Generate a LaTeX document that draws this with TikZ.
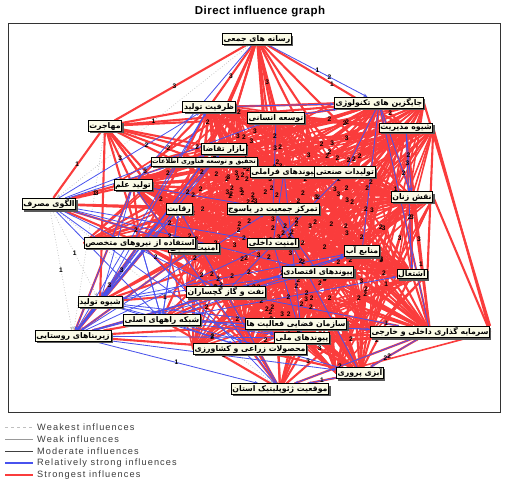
\documentclass[tikz,border=0pt]{standalone}
\usepackage{fontspec}
\setmainfont{Liberation Sans}
\newfontfamily\fa[Script=Arabic]{DejaVu Sans}
\newfontfamily\legfont[LetterSpace=12]{Liberation Sans}
\newfontfamily\titlefont[LetterSpace=4]{Liberation Sans}
\TeXXeTstate=1
\usetikzlibrary{shadows,arrows.meta}
\definecolor{redl}{RGB}{250,60,60}
\definecolor{bluel}{RGB}{72,82,238}
\definecolor{boxfill}{RGB}{250,250,230}
\definecolor{legtxt}{RGB}{60,60,60}
\pgfdeclarelayer{edges}
\pgfdeclarelayer{nums}
\pgfsetlayers{edges,nums,main}
\newcommand\fatext[1]{\beginR #1\endR}
\tikzset{
  lbl/.style={draw=black, line width=0.8pt, fill=boxfill, inner sep=1.2pt,
    font=\fa\bfseries\fontsize{7.8}{9}\selectfont,
    drop shadow={shadow xshift=1.8pt, shadow yshift=-1.8pt, fill=black!65, opacity=1}},
  redge/.style={draw=redl, line width=2.1pt},
  redge2/.style={draw=redl, line width=1.6pt},
  bedge/.style={draw=bluel, line width=0.8pt},
  gedge/.style={draw=gray!55, dotted, line width=0.7pt},
  wedge/.style={draw=gray!70, line width=0.4pt},
  tip/.style={-{Stealth[length=4pt,width=3pt]}},
  num/.style={font=\bfseries\fontsize{6.6}{7}\selectfont, inner sep=0pt, text=black},
  legtext/.style={anchor=west, inner sep=0pt, text=legtxt, font=\legfont\fontsize{9.2}{10}\selectfont},
}
\begin{document}
\begin{tikzpicture}[x=1pt,y=-1pt]
\useasboundingbox (0,0) rectangle (508,481);
\node[font=\titlefont\bfseries\fontsize{11.5}{12}\selectfont] (title) at (260,12) {Direct influence graph};
\draw[line width=0.6pt, draw=black!80] (8,23) rectangle (500,412);

% ---------- nodes ----------
\node[lbl] (n1) at (257,39) {\fatext{رسانه های جمعی}};
\node[lbl] (n2) at (209,107) {\fatext{ظرفیت تولید}};
\node[lbl] (n3) at (276,118) {\fatext{توسعه انسانی}};
\node[lbl] (n4) at (379,103) {\fatext{جایگزین های تکنولوژی}};
\node[lbl] (n5) at (406,128) {\fatext{شیوه مدیریت}};
\node[lbl] (n6) at (105,126) {\fatext{مهاجرت}};
\node[lbl] (n7) at (224,149) {\fatext{بازار تقاضا}};
\node[lbl, font=\fa\bfseries\fontsize{6.5}{7.5}\selectfont] (n8) at (204,162) {\fatext{تحقیق و توسعه فناوری اطلاعات}};
\node[lbl] (n9) at (284,172) {\fatext{پیوندهای فراملی}};
\node[lbl] (n10) at (345,172) {\fatext{تولیدات صنعتی}};
\node[lbl] (n11) at (412,197) {\fatext{نقش زنان}};
\node[lbl] (n12) at (133,185) {\fatext{تولید علم}};
\node[lbl] (n13) at (49,204) {\fatext{الگوی مصرف}};
\node[lbl] (n14) at (179,209) {\fatext{رقابت}};
\node[lbl] (n15) at (273,209) {\fatext{تمرکز جمعیت در یاسوج}};
\node[lbl] (n17) at (194,248) {\fatext{امنیت غذایی}};
\node[lbl] (n16) at (140,243) {\fatext{استفاده از نیروهای متخصص}};
\node[lbl] (n18) at (273,243) {\fatext{امنیت داخلی}};
\node[lbl] (n19) at (362,251) {\fatext{منابع آب}};
\node[lbl] (n20) at (412,274) {\fatext{اشتغال}};
\node[lbl] (n21) at (318,272) {\fatext{پیوندهای اقتصادی}};
\node[lbl] (n22) at (226,292) {\fatext{نفت و گاز گچساران}};
\node[lbl] (n23) at (100,302) {\fatext{شیوه تولید}};
\node[lbl] (n24) at (162,320) {\fatext{شبکه راههای اصلی}};
\node[lbl] (n25) at (73,336) {\fatext{زیربناهای روستایی}};
\node[lbl] (n26) at (296,324) {\fatext{سازمان فضایی فعالیت ها}};
\node[lbl] (n27) at (302,338) {\fatext{پیوندهای ملی}};
\node[lbl] (n28) at (430,332) {\fatext{سرمایه گذاری داخلی و خارجی}};
\node[lbl] (n29) at (250,349) {\fatext{محصولات زراعی و کشاورزی}};
\node[lbl] (n30) at (360,373) {\fatext{آبزی پروری}};
\node[lbl] (n31) at (280,389) {\fatext{موقعیت ژئوپلیتیک استان}};

\def\corelist{2,3,4,5,7,8,9,10,11,12,14,15,16,17,18,19,20,21,22,26,27,28,29,30}

% ---------- edges ----------
\begin{pgfonlayer}{edges}
% weakest (dotted grey)
\foreach \a/\b in {1/13,6/13,13/23,13/25,25/31,25/30,31/30,4/20,5/20,5/28,11/28,1/4,1/5,12/13,23/25,24/25,1/12,6/25,13/31,20/30,11/30,1/6,13/24}
  \draw[gedge,tip] (n\a) -- (n\b);
% weak / moderate (grey)
\foreach \a/\b in {13/16,6/23,25/29,24/31,4/11,5/11,30/28}
  \draw[wedge,tip] (n\a) -- (n\b);
% strongest core
\foreach \i in \corelist {\foreach \j in \corelist {\ifnum\i<\j
  \draw[redge] (n\i) -- (n\j);
  \draw[redge2] (n\i.east) -- (n\j.west);
  \fi}}
\draw[redge] (n5.east) -- (n28.east);
\draw[redge] (n4.east) -- (n28.north east);
\draw[redge] (n5.east) -- (n20.east);
\draw[redge] (n11.east) -- (n28.east);
% strongest fans
\foreach \b in {2,3,6,7,8,9,10,15,18,21,5,11,19,26,17,14}
  \draw[redge] (n1) -- (n\b);
\foreach \b in {2,3,4,7,8,9,12,14,15,16,13,23,17,22}
  \draw[redge] (n6) -- (n\b);
\foreach \b in {12,14,15,16,8,17}
  \draw[redge] (n13) -- (n\b);
\foreach \b in {14,16,15,17,22,18}
  \draw[redge] (n23) -- (n\b);
\foreach \b in {17,22,18,15,26,21}
  \draw[redge] (n24) -- (n\b);
\foreach \b in {12,16,14,17,22,29,26,24}
  \draw[redge] (n25) -- (n\b);
\foreach \b in {26,27,29,22,18,15,21,19,30,28,24,17,20}
  \draw[redge] (n31) -- (n\b);
% relatively strong (blue)
\foreach \i in \corelist {\foreach \j in \corelist {\ifnum\i<\j
  \pgfmathtruncatemacro\bsel{mod(\i*7+\j*13+\i*\j,9)}
  \ifnum\bsel=0 \draw[bedge] (n\i) -- (n\j);\fi\fi}}
\draw[bedge,tip] (n1) -- (n4);
\foreach \a/\b in {13/2,13/7,13/3,13/22,13/24,13/18,13/21,13/17,13/29,
  23/21,23/26,23/19,23/27,23/29,23/2,23/8,
  24/16,24/14,24/29,24/27,24/19,24/20,24/28,
  25/15,25/18,25/21,25/27,25/30,25/31,25/8,25/7,25/2,25/19,25/23,
  16/23,16/24,16/25,12/23,12/25,14/23,14/24,14/25,22/25,17/25,
  31/16,31/14,31/12,28/30,28/31,28/24,30/31,30/23,
  5/11,5/20,4/11,2/4,3/4,1/12}
  \draw[bedge,tip] (n\a) -- (n\b);
\end{pgfonlayer}

% ---------- influence values ----------
\begin{pgfonlayer}{nums}
\foreach \i in \corelist {\foreach \j in \corelist {\ifnum\i<\j
  \pgfmathtruncatemacro\shw{mod(\i*3+\j*5,3)}
  \ifnum\shw<2
   \pgfmathsetmacro\pp{0.22+0.08*mod(\i*\j+\j,8)}
   \pgfmathtruncatemacro\lab{2+mod(\i*\j+\i,2)}
   \path (n\i) -- node[num,pos=\pp]{\lab} (n\j);
  \fi\fi}}
\foreach \a/\b in {1/13,6/13,13/23,13/25,25/31,25/30,31/30,4/20,5/20,11/28,1/4,1/5,12/13,1/12,13/31,20/30,11/30}
  \path (n\a) -- node[num,pos=0.5]{1} (n\b);
\foreach \a/\b in {1/4,13/2,13/22,25/15,25/27,24/29,28/30,28/31,5/20,23/21,31/14,13/17}
  \path (n\a) -- node[num,pos=0.62]{2} (n\b);
\foreach \a/\b in {1/6,1/2,1/3,6/12,6/14,13/12,31/26,25/16,23/16,5/28}
  \path (n\a) -- node[num,pos=0.55]{3} (n\b);
\end{pgfonlayer}

% ---------- legend ----------
\coordinate (la1) at (5,427); \coordinate (lb1) at (33,427);
\coordinate (la2) at (5,439); \coordinate (lb2) at (33,439);
\coordinate (la3) at (5,451); \coordinate (lb3) at (33,451);
\coordinate (la4) at (5,463); \coordinate (lb4) at (33,463);
\coordinate (la5) at (5,475); \coordinate (lb5) at (33,475);
\draw[gray!50, dashed, line width=0.5pt] (la1) -- (lb1);
\draw[gray!80, line width=0.5pt] (la2) -- (lb2);
\draw[black!75, line width=0.6pt] (la3) -- (lb3);
\draw[bluel, line width=1.3pt] (la4) -- (lb4);
\draw[redl, line width=1.3pt] (la5) -- (lb5);
\node[legtext] (t1) at (37,427) {Weakest influences};
\node[legtext] (t2) at (37,439) {Weak influences};
\node[legtext] (t3) at (37,451) {Moderate influences};
\node[legtext] (t4) at (37,463) {Relatively strong influences};
\node[legtext] (t5) at (37,475) {Strongest influences};
\end{tikzpicture}
\end{document}
